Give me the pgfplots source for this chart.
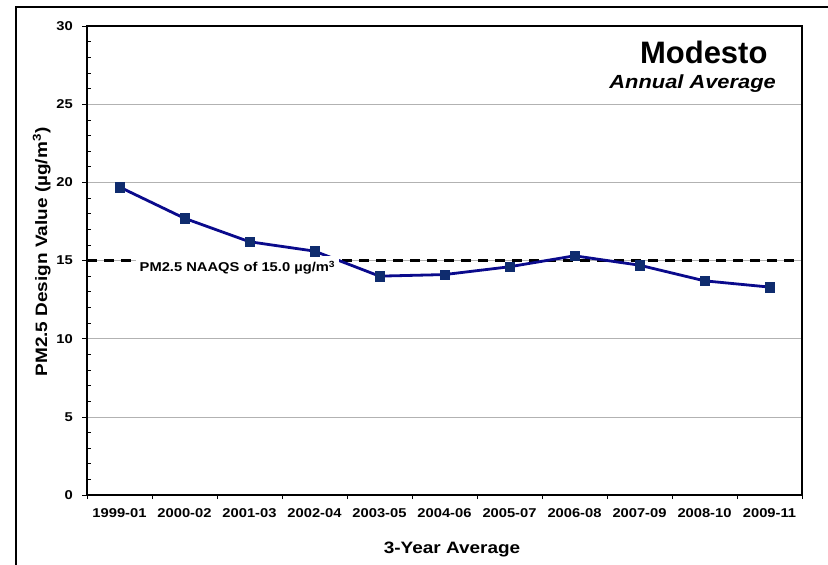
\documentclass[border=0pt]{standalone}
\usepackage{fontspec}
\setmainfont{Liberation Sans}[FakeStretch=1.15]
\newfontfamily\titlefont{Liberation Sans}
\usepackage{pgfplots}
\pgfplotsset{compat=1.18}
\definecolor{serline}{HTML}{0A0A8C}
\definecolor{sermark}{HTML}{0F2C6E}
\begin{document}
\begin{tikzpicture}[x=1bp,y=1bp]
\useasboundingbox (0,0) rectangle (828,-565);
\draw[line width=2bp] (16,-575) -- (16,-7) -- (840,-7);
\begin{axis}[
  at={(87bp,-495bp)}, anchor=south west,
  scale only axis, width=715bp, height=469bp,
  xmin=-0.5, xmax=10.5, ymin=0, ymax=30,
  xtick={0,...,10},
  xticklabels={1999-01,2000-02,2001-03,2002-04,2003-05,2004-06,2005-07,2006-08,2007-09,2008-10,2009-11},
  major x tick style={draw=none},
  minor xtick={-0.5,0.5,...,10.5},
  ytick={0,5,...,30},
  extra y ticks={1,2,3,4,6,7,8,9,11,12,13,14,16,17,18,19,21,22,23,24,26,27,28,29},
  extra y tick labels={},
  extra y tick style={grid=none, tick align=inside, major tick length=4bp},
  xtick pos=bottom, ytick pos=left,
  tick align=outside,
  major tick length=5bp, minor tick length=4bp,
  tick style={black, line width=0.6bp},
  axis line style={line width=1.6bp},
  ymajorgrids, grid style={black!30, line width=0.6bp},
  /pgf/number format/assume math mode=true,
  tick label style={font=\bfseries\fontsize{12.8bp}{14bp}\selectfont},
  yticklabel style={inner sep=0pt, xshift=-9bp},
  xticklabel style={inner sep=0pt, yshift=-8.5bp},
]
\addplot[black, line width=3bp, dash pattern=on 10bp off 7bp] coordinates {(-0.5,15) (10.5,15)};
\addplot[color=serline, line width=2.8bp, mark=square*, mark size=4.8bp,
  mark options={fill=sermark, draw=sermark, line width=0.4bp}] coordinates {
  (0,19.7) (1,17.7) (2,16.2) (3,15.6) (4,14.0) (5,14.1) (6,14.6) (7,15.3) (8,14.7) (9,13.7) (10,13.3)};
\node[fill=white, inner xsep=4bp, inner ysep=5bp, anchor=west, font=\bfseries\fontsize{12.8bp}{14bp}\selectfont]
  at (axis cs:0.246,14.52) {PM2.5 NAAQS of 15.0 µg/m\textsuperscript{3}\hspace{9bp}};
\end{axis}
\node[anchor=base east, font=\titlefont\bfseries\fontsize{31bp}{31bp}\selectfont] at (771,-64) {Modesto};
\node[anchor=base east, inner sep=0pt, font=\bfseries\itshape\fontsize{19bp}{19bp}\selectfont] at (776,-89) {Annual Average};
\node[anchor=base, inner sep=0pt, font=\bfseries\fontsize{16.5bp}{16.5bp}\selectfont] at (452,-553) {3-Year Average};
\node[anchor=base, rotate=90, inner sep=0pt, font=\bfseries\fontsize{16.5bp}{16.5bp}\selectfont] at (47,-252) {PM2.5 Design Value (µg/m\textsuperscript{3})};
\end{tikzpicture}
\end{document}
